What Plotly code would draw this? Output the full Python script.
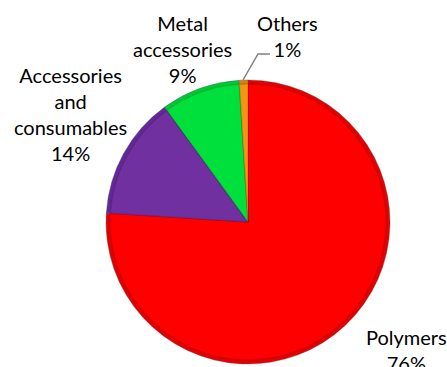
import plotly.graph_objects as go

# Share of material categories
categories = ["Polymers", "Accessories and consumables", "Metal accessories", "Others"]
shares = [76, 14, 9, 1]
label_lines = [["Polymers"], ["Accessories", "and", "consumables"], ["Metal", "accessories"], ["Others"]]

base_colors = ["#FF0000", "#7030A0", "#00E03C", "#F39414"]
edge_colors = ["#E20000", "#62289A", "#00C835", "#D98010"]

W, H = 447, 367
cx, cy, r = 248, 222, 142
bevel = 4


def px_domain(radius):
    return dict(
        x=[(cx - radius) / W, (cx + radius) / W],
        y=[1 - (cy + radius) / H, 1 - (cy - radius) / H],
    )


fig = go.Figure()

# Outer (slightly darker) pie gives the rim shading
fig.add_trace(go.Pie(
    labels=categories, values=shares, sort=False, direction="clockwise", rotation=0,
    marker=dict(colors=edge_colors, line=dict(color="rgba(80,80,80,0.35)", width=1)),
    textinfo="none", hoverinfo="label+percent", showlegend=False,
    domain=px_domain(r),
))
# Inner pie with the main face colours
fig.add_trace(go.Pie(
    labels=categories, values=shares, sort=False, direction="clockwise", rotation=0,
    marker=dict(colors=base_colors, line=dict(color="rgba(0,0,0,0.12)", width=1.5)),
    textinfo="none", hoverinfo="skip", showlegend=False,
    domain=px_domain(r - bevel),
))

# Data label positions (pixel centres of each text block)
label_pos = {
    "Polymers": (406, 350),
    "Accessories and consumables": (70, 114),
    "Metal accessories": (182, 49.5),
    "Others": (287, 35.5),
}

total = sum(shares)
for cat, val, lines in zip(categories, shares, label_lines):
    x, y = label_pos[cat]
    pct = f"{round(100 * val / total)}%"
    fig.add_annotation(
        x=x / W, y=1 - y / H, xref="paper", yref="paper",
        text="<br>".join(lines + [pct]), showarrow=False,
        xanchor="center", yanchor="middle", align="center",
        font=dict(family="Lato", size=20, color="#000000"),
    )

# Leader line for the smallest slice
pts = [(243, 80), (258, 54), (270, 54)]
path = "M " + " L ".join(f"{px / W},{1 - py / H}" for px, py in pts)
fig.add_shape(type="path", path=path, xref="paper", yref="paper",
              line=dict(color="#808080", width=1.5))

fig.update_layout(
    width=W, height=H,
    margin=dict(l=0, r=0, t=0, b=0),
    paper_bgcolor="white", plot_bgcolor="white",
)

fig.write_html("out.html")
